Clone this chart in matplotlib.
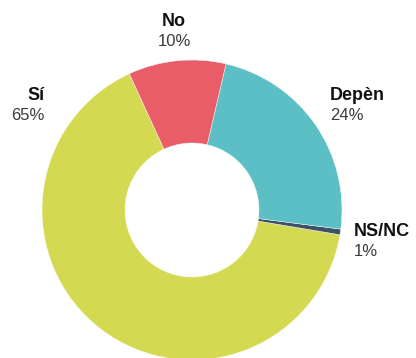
import matplotlib.pyplot as plt

# data (counterclockwise order, starting from the Sí/No boundary)
categories = ['Sí', 'NS/NC', 'Depèn', 'No']
values = [65.5, 0.6, 23.4, 10.5]
pct_labels = ['65%', '1%', '24%', '10%']
colors = ['#d3d951', '#3e5266', '#5cbfc6', '#e95d69']

plt.rcParams['font.family'] = ['Liberation Sans', 'DejaVu Sans']

fig = plt.figure(figsize=(4.16, 3.58), dpi=100)
ax = fig.add_axes([0, 0, 1, 1])

ax.pie(values, colors=colors, startangle=114.7, counterclock=True,
       center=(192, 148), radius=150,
       wedgeprops=dict(width=83, edgecolor='white', linewidth=0.3))

# pie() resets the limits, so set them afterwards
ax.set_xlim(0, 416)
ax.set_ylim(0, 358)
ax.set_aspect('equal')
ax.axis('off')

# label positions (x, y, alignment)
label_pos = {
    'Sí': (45, 263, 'right'),
    'No': (174, 336, 'center'),
    'Depèn': (330, 263, 'left'),
    'NS/NC': (354, 126, 'left'),
}
for cat, pct in zip(categories, pct_labels):
    x, y, ha = label_pos[cat]
    ax.text(x, y, cat, ha=ha, va='center', fontsize=13, fontweight='bold', color='#111111')
    ax.text(x, y - 20, pct, ha=ha, va='center', fontsize=12, color='#3a3a3a')

fig.savefig('out.png', dpi=100)
